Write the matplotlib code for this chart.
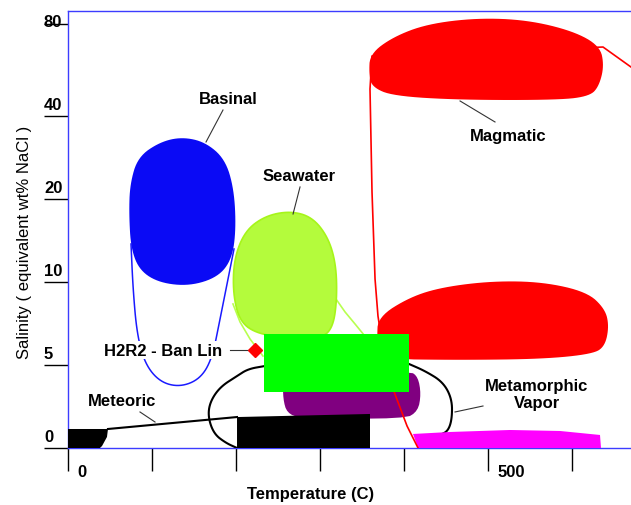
import numpy as np
import matplotlib
matplotlib.use('Agg')
import matplotlib.pyplot as plt

plt.rcParams['font.family'] = ['Liberation Sans', 'DejaVu Sans']

# salinity axis is stretched: 0,5,10,20,40,80 sit at equal steps,
# so the field outlines below are given in axis units (0..5) on y
sal_ticks = [0, 5, 10, 20, 40, 80]
sal_tick_pos = [0, 1, 2, 3, 4, 5.11]
sal_label_pos = [0, 1, 2, 3, 4, 5]
temp_ticks = [0, 100, 200, 300, 400, 500, 600]
temp_labels = {0: '0', 500: '500'}

# sample point
h2r2_temp = 222.6
h2r2_sal = 5.9

# field outlines (temperature C, salinity axis units)
basinal_T = [73.8, 83.3, 109.5, 135.7, 163.1, 186.9, 197.6, 200, 195.2, 178.6, 145.2, 109.5, 85.7, 75, 72.6]
basinal_S = [3.181, 3.506, 3.687, 3.747, 3.687, 3.482, 3.12, 2.639, 2.277, 2.06, 1.952, 1.988, 2.133, 2.398, 2.819]
basinal_env_T = [75, 77.4, 82.1, 91.7, 109.5, 133.3, 157.1, 171.4, 181, 190.5, 197.6]
basinal_env_S = [2.458, 1.916, 1.373, 1.012, 0.795, 0.735, 0.831, 1.072, 1.554, 2.036, 2.398]

seawater_T = [197.6, 210.7, 234.5, 264.3, 290.5, 309.5, 319, 320.2, 315.5, 302.4, 264.3, 226.2, 204.8, 196.4]
seawater_S = [2.277, 2.614, 2.795, 2.855, 2.783, 2.542, 2.217, 1.795, 1.458, 1.325, 1.325, 1.373, 1.518, 1.855]
seawater_left_T = [196.4, 204.8, 216.7, 232.1]
seawater_left_S = [1.735, 1.518, 1.313, 1.108]
seawater_right_T = [319, 329.8, 341.7, 352.4]
seawater_right_S = [1.795, 1.639, 1.494, 1.361]

green_box_T = [233.3, 406.0]
green_box_S = [0.675, 1.373]

purple_T = [256, 264.3, 407.1, 416.7, 420.2, 416.7, 401.2, 276.2, 260.7, 256]
purple_S = [0.831, 0.904, 0.928, 0.855, 0.651, 0.446, 0.349, 0.361, 0.422, 0.59]

black_box_T = [201.2, 201.2, 359.5, 359.5]
black_box_S = [0, 0.373, 0.41, 0]
meteoric_T = [0, 0, 47.6, 46.4, 40.5, 38]
meteoric_S = [0, 0.229, 0.229, 0.133, 0.024, 0]
meteoric_line_T = [47.6, 201.2]
meteoric_line_S = [0.229, 0.373]

loop_left_T = [234.5, 214.3, 201.2, 181, 169, 166.7, 173.8, 188.1, 201.2]
loop_left_S = [0.988, 0.952, 0.867, 0.735, 0.554, 0.373, 0.169, 0.06, 0]
loop_right_T = [406, 425, 446.4, 457.1, 457.1, 452.4, 442.9]
loop_right_S = [1.012, 0.928, 0.795, 0.59, 0.349, 0.205, 0.157]

magmatic_line_T = [670.2, 636.9, 361.9, 359.5, 361.9, 365.5, 369, 377.4, 386.9, 403.6, 416.7]
magmatic_line_S = [4.59, 4.831, 4.723, 4.325, 3.084, 2.036, 1.59, 1.036, 0.711, 0.265, 0]
magmatic_top_T = [359.5, 386.9, 427.4, 486.9, 546.4, 601.2, 633.3, 638.1, 632.1, 621.4, 585.7, 466.7, 386.9, 361.9, 358.3]
magmatic_top_S = [4.747, 4.952, 5.108, 5.181, 5.157, 5.024, 4.843, 4.602, 4.361, 4.241, 4.193, 4.193, 4.241, 4.349, 4.506]
magmatic_low_T = [369, 407.1, 446.4, 506, 565.5, 617.9, 639.3, 644, 639.3, 625, 565.5, 466.7, 369, 367.9]
magmatic_low_S = [1.578, 1.819, 1.94, 2.012, 2.0, 1.88, 1.675, 1.47, 1.229, 1.133, 1.072, 1.06, 1.072, 1.313]

vapor_T = [410.7, 454.8, 526.2, 585.7, 633.3, 634.5, 416.7]
vapor_S = [0.169, 0.193, 0.217, 0.205, 0.157, 0, 0]


def chaikin(xs, ys, n=3, closed=True):
    p = np.column_stack([xs, ys]).astype(float)
    for _ in range(n):
        if closed:
            q = np.roll(p, -1, axis=0)
        else:
            q = p[1:]
            p = p[:-1]
        a = 0.75 * p + 0.25 * q
        b = 0.25 * p + 0.75 * q
        new = np.empty((2 * len(a), 2))
        new[0::2] = a
        new[1::2] = b
        if not closed:
            new = np.vstack([[xs[0], ys[0]], new, [xs[-1], ys[-1]]])
        p = new
    return p[:, 0], p[:, 1]


fig = plt.figure(figsize=(6.31, 5.06), dpi=100)
ax = fig.add_axes([68 / 631, 57 / 506, 563 / 631, 437 / 506])
ax.set_xlim(0, 670.2)
ax.set_ylim(0, 5.265)

# basinal
x, y = chaikin(basinal_env_T, basinal_env_S, 3, closed=False)
ax.plot(x, y, color='#1a1aff', lw=1.1, zorder=2)
x, y = chaikin(basinal_T, basinal_S, 3)
ax.fill(x, y, color='#0a0af5', lw=0, zorder=3)

# seawater
for tt, ss in [(seawater_left_T, seawater_left_S), (seawater_right_T, seawater_right_S)]:
    ax.plot(tt, ss, color='#b8ff50', lw=1.2, zorder=2)
x, y = chaikin(seawater_T, seawater_S, 3)
ax.fill(x, y, facecolor='#b4fb3c', edgecolor='#a6f51a', lw=1.2, zorder=3)

# magmatic
ax.plot(magmatic_line_T, magmatic_line_S, color='#ff0000', lw=1.2, zorder=4)
x, y = chaikin(magmatic_top_T, magmatic_top_S, 3)
ax.fill(x, y, color='#ff0000', lw=0, zorder=4)
x, y = chaikin(magmatic_low_T, magmatic_low_S, 3)
ax.fill(x, y, color='#ff0000', lw=0, zorder=4)

# metamorphic / vapor envelope
for tt, ss in [(loop_left_T, loop_left_S), (loop_right_T, loop_right_S)]:
    x, y = chaikin(tt, ss, 3, closed=False)
    ax.plot(x, y, color='black', lw=1.5, zorder=3)

x, y = chaikin(purple_T, purple_S, 2)
ax.fill(x, y, color='#800080', lw=0, zorder=3)
ax.fill(black_box_T, black_box_S, color='black', lw=0, zorder=3.5)
ax.fill(meteoric_T, meteoric_S, color='black', lw=0, zorder=3.5)
ax.plot(meteoric_line_T, meteoric_line_S, color='black', lw=1.5, zorder=3.5)
ax.fill([green_box_T[0], green_box_T[1], green_box_T[1], green_box_T[0]],
        [green_box_S[0], green_box_S[0], green_box_S[1], green_box_S[1]],
        color='#00ff00', lw=0, zorder=5)
ax.fill(vapor_T, vapor_S, color='#ff00ff', lw=0, zorder=3)

# sample
h2r2_pos = np.interp(h2r2_sal, sal_ticks, sal_tick_pos)
ax.plot([h2r2_temp - 30, h2r2_temp - 6], [h2r2_pos, h2r2_pos], color='#333333', lw=0.8, zorder=6)
ax.plot(h2r2_temp, h2r2_pos, marker='D', ms=7.5, color='#ff0000', mec='#ff0000', zorder=7)
ax.text(h2r2_temp - 39, h2r2_pos, 'H2R2 - Ban Lin', ha='right', va='center',
        fontsize=12, fontweight='bold', zorder=6,
        bbox=dict(facecolor='white', edgecolor='none', pad=1))

# field labels with leader lines
labels = [
    ('Basinal', 190.5, 4.215, [184.5, 164.3], [4.072, 3.687]),
    ('Seawater', 275.6, 3.283, [276.2, 267.9], [3.145, 2.819]),
    ('Magmatic', 524.4, 3.765, [508.3, 466.7], [3.928, 4.181]),
    ('Metamorphic\nVapor', 558.3, 0.651, [494, 460.7], [0.506, 0.434]),
    ('Meteoric', 64.3, 0.57, [85.7, 103.6], [0.434, 0.313]),
]
for txt, tx, ty, lx, ly in labels:
    ax.plot(lx, ly, color='#333333', lw=0.8, zorder=6)
    ax.text(tx, ty, txt, ha='center', va='center', fontsize=12,
            fontweight='bold', linespacing=1.2, zorder=6)

# axes styling
for side in ['left', 'top', 'bottom']:
    ax.spines[side].set_color('#3c3cff')
    ax.spines[side].set_linewidth(1)
ax.spines['right'].set_visible(False)

ax.set_xticks(temp_ticks)
ax.set_xticklabels([])
ax.set_yticks(sal_tick_pos)
ax.set_yticklabels([])
ax.tick_params(axis='x', direction='out', length=16.5, width=1, color='black')
ax.tick_params(axis='y', direction='out', length=17.3, width=1, color='black')

for t, lab in temp_labels.items():
    ax.annotate(lab, xy=(t, 0), xycoords=('data', 'axes fraction'),
                xytext=(6.5, -17), textcoords='offset points',
                ha='left', va='center', fontsize=12, fontweight='bold')
for p, lab in zip(sal_label_pos, sal_ticks):
    ax.annotate(str(lab), xy=(0, p), xycoords=('axes fraction', 'data'),
                xytext=(-17.3, 2.9), textcoords='offset points',
                ha='left', va='bottom', fontsize=12, fontweight='bold')

fig.text(311 / 631, 11 / 506, 'Temperature (C)', ha='center', va='center',
         fontsize=12, fontweight='bold')
fig.text(25 / 631, 264 / 506, 'Salinity ( equivalent wt% NaCl )', ha='center',
         va='center', rotation=90, fontsize=12)

fig.savefig('out.png', dpi=100)
